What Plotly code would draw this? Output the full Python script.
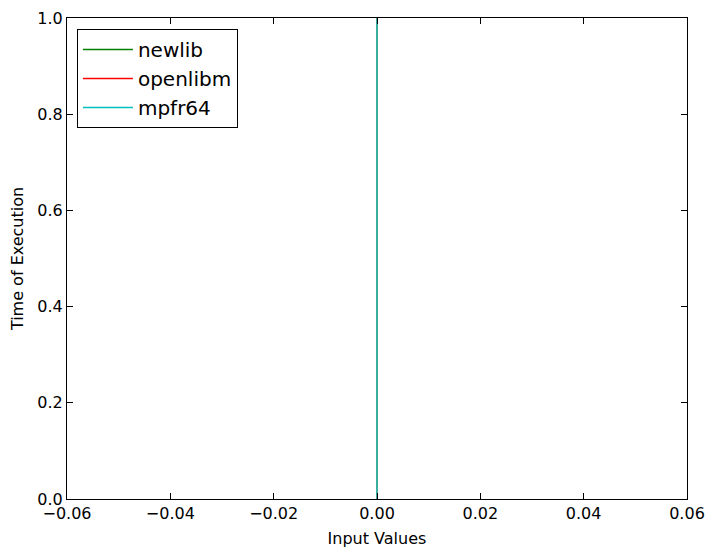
import plotly.graph_objects as go

series_names = ["newlib", "openlibm", "mpfr64"]
series_colors = ["#007f00", "#ff0000", "#00bfbf"]
input_values = [0.0, 0.0]
exec_times = [0.0, 1.0]

x_ticks = [-0.06, -0.04, -0.02, 0.0, 0.02, 0.04, 0.06]
y_ticks = [0.0, 0.2, 0.4, 0.6, 0.8, 1.0]

fig = go.Figure()

for name, color in zip(series_names, series_colors):
    fig.add_trace(go.Scatter(
        x=input_values, y=exec_times, mode="lines", name=name,
        line=dict(color=color, width=1.5),
    ))

# the overlapping lines show up as a blended teal in the original
fig.add_trace(go.Scatter(
    x=input_values, y=exec_times, mode="lines", showlegend=False,
    line=dict(color="#3aae9f", width=2), hoverinfo="skip",
))

axis_style = dict(
    showgrid=False, zeroline=False, showline=True, linecolor="black",
    linewidth=1, mirror="allticks", ticks="inside", ticklen=6,
    tickcolor="black", automargin=False,
    tickfont=dict(family="DejaVu Sans", size=16, color="black"),
)

fig.update_xaxes(
    range=[-0.06, 0.06], tickvals=x_ticks, tickformat=".2f",
    title=dict(text="Input Values", font=dict(family="DejaVu Sans", size=16, color="black"), standoff=10),
    **axis_style,
)
fig.update_yaxes(
    range=[0, 1], tickvals=y_ticks, tickformat=".1f",
    title=dict(text="Time of Execution", font=dict(family="DejaVu Sans", size=16, color="black"), standoff=12),
    **axis_style,
)

# page body has an 8px margin, so the figure is a bit smaller than the window
fig.update_layout(
    width=707, height=549,
    margin=dict(l=59, r=28, t=10, b=58),
    plot_bgcolor="white", paper_bgcolor="white",
    legend=dict(
        x=0.016, y=0.977, xanchor="left", yanchor="top",
        bordercolor="black", borderwidth=1, bgcolor="white",
        font=dict(family="DejaVu Sans", size=20, color="black"),
        itemwidth=50, tracegroupgap=0,
    ),
)

fig.write_html("out.html")
